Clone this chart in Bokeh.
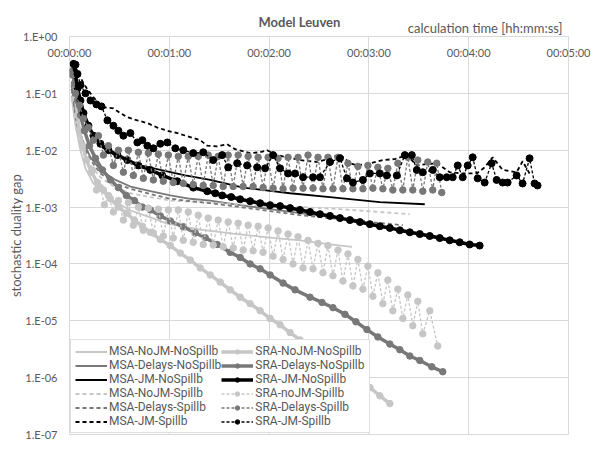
from bokeh.plotting import figure
from bokeh.models import FixedTicker, Legend, LegendItem, Title, Range1d
from bokeh.embed import file_html
from bokeh.resources import INLINE

# ---------------- data (time in seconds, stochastic duality gap) ----------------
x_ticks = [0, 60, 120, 180, 240, 300]
x_tick_labels = ["00:00:00", "00:01:00", "00:02:00", "00:03:00", "00:04:00", "00:05:00"]
y_ticks = [1.0, 1e-1, 1e-2, 1e-3, 1e-4, 1e-5, 1e-6, 1e-7]
y_tick_labels = ["1.E+00", "1.E-01", "1.E-02", "1.E-03", "1.E-04", "1.E-05", "1.E-06", "1.E-07"]

series_labels = [
    "MSA-NoJM-NoSpillb", "MSA-Delays-NoSpillb", "MSA-JM-NoSpillb",
    "MSA-NoJM-Spillb", "MSA-Delays-Spillb", "MSA-JM-Spillb",
    "SRA-NoJM-NoSpillb", "SRA-Delays-NoSpillb", "SRA-JM-NoSpillb",
    "SRA-noJM-Spillb", "SRA-Delays-Spillb", "SRA-JM-Spillb",
]

t_msa_nojm_ns = [1.2, 3.6, 6.6, 9.6, 14.4, 24.6, 36.6, 48.6, 58.8, 78.6, 98.4, 120.6, 138.6, 156.6, 169.8]
v_msa_nojm_ns = [9.2e-2, 2.7e-2, 9.9e-3, 4.8e-3, 2.6e-3, 1.4e-3, 8.7e-4, 6.6e-4, 5.1e-4, 4.0e-4, 3.4e-4,
                 2.9e-4, 2.6e-4, 2.2e-4, 2.0e-4]

t_msa_del_ns = [1.2, 4.2, 7.8, 12.6, 18.6, 27.6, 36.6, 48.6, 60.6, 72.6, 84.6, 102.6, 120.6, 138.6, 156.6, 177.6]
v_msa_del_ns = [0.14, 3.6e-2, 1.5e-2, 7.5e-3, 4.5e-3, 3.0e-3, 2.3e-3, 1.9e-3, 1.6e-3, 1.4e-3, 1.3e-3,
                1.08e-3, 9.2e-4, 7.8e-4, 6.7e-4, 5.7e-4]

t_msa_jm_ns = [1.2, 3.6, 6.6, 10.2, 14.4, 20.4, 27.6, 34.8, 42.6, 54.6, 69.6, 84.6, 104.4, 132.6, 156.6, 186.6, 213.6]
v_msa_jm_ns = [0.35, 0.17, 7.5e-2, 3.35e-2, 1.7e-2, 1.08e-2, 8.2e-3, 6.7e-3, 5.4e-3, 4.5e-3, 3.6e-3,
               3.0e-3, 2.2e-3, 1.75e-3, 1.5e-3, 1.22e-3, 1.12e-3]

t_msa_nojm_sp = [1.2, 4.2, 7.8, 12.6, 18.6, 27.6, 36.6, 48.6, 60.6, 78.6, 102.6, 120.6, 138.6, 162.6, 186.6, 204.6]
v_msa_nojm_sp = [8.2e-2, 2.4e-2, 1.0e-2, 5.4e-3, 3.35e-3, 2.2e-3, 1.75e-3, 1.5e-3, 1.3e-3, 1.22e-3, 1.12e-3,
                 1.04e-3, 1.0e-3, 9.2e-4, 8.2e-4, 7.5e-4]

t_msa_del_sp = [1.2, 4.2, 7.8, 12.6, 18.6, 27.6, 36.6, 48.6, 60.6, 72.6, 84.6, 102.6, 120.6, 138.6, 162.6, 180.6, 200.4]
v_msa_del_sp = [0.12, 3.1e-2, 1.27e-2, 6.7e-3, 3.9e-3, 2.6e-3, 2.1e-3, 1.7e-3, 1.4e-3, 1.27e-3, 1.17e-3,
                1.0e-3, 8.5e-4, 7.2e-4, 6.15e-4, 5.45e-4, 4.8e-4]

t_msa_jm_sp = [1.8, 5.4, 9.0, 12.6, 16.8, 20.4, 26.4, 30.6, 34.8, 40.8, 46.8, 52.8, 58.8, 64.8, 72.6, 78.6,
               82.8, 88.8, 94.8, 99.6, 108.6, 114.6, 118.8, 124.8, 130.8, 138.6, 148.8, 156.6, 162.6, 168.6,
               172.8, 180.6, 188.4, 195.6, 202.8, 208.8, 214.8, 220.8, 228.6, 236.4, 244.8, 249.6, 254.4,
               260.4, 268.8, 272.4, 276.6]
v_msa_jm_sp = [0.38, 0.22, 0.14, 0.10, 7.0e-2, 5.7e-2, 5.45e-2, 4.5e-2, 3.8e-2, 3.35e-2, 3.0e-2, 2.5e-2,
               2.2e-2, 2.0e-2, 1.7e-2, 1.5e-2, 1.2e-2, 1.17e-2, 1.27e-2, 1.04e-2, 8.9e-3, 9.2e-3, 1.0e-2,
               8.2e-3, 7.5e-3, 6.7e-3, 6.2e-3, 7.2e-3, 8.5e-3, 5.9e-3, 5.4e-3, 5.9e-3, 6.7e-3, 7.0e-3,
               8.2e-3, 5.4e-3, 5.7e-3, 5.9e-3, 4.1e-3, 3.9e-3, 3.9e-3, 5.0e-3, 7.5e-3, 4.5e-3, 4.1e-3,
               6.4e-3, 3.9e-3]

t_sra_nojm_ns = [3.6, 4.8, 6.0, 7.8, 10.2, 13.2, 16.8, 20.4, 24.6, 29.4, 34.2, 39.0, 43.8, 48.6, 54.6, 60.6,
                 66.6, 72.6, 78.6, 84.6, 90.6, 96.6, 102.6, 108.6, 114.6, 120.6, 126.6, 132.6, 138.6, 144.6,
                 150.6, 156.6, 162.6, 168.6, 174.6, 180.6, 186.6, 192.6]
v_sra_nojm_ns = [8.2e-2, 4.1e-2, 2.2e-2, 1.2e-2, 6.7e-3, 4.1e-3, 2.7e-3, 2.0e-3, 1.4e-3, 1.0e-3, 7.8e-4,
                 5.9e-4, 4.6e-4, 3.6e-4, 2.7e-4, 2.1e-4, 1.55e-4, 1.17e-4, 8.5e-5, 6.4e-5, 4.8e-5, 3.5e-5,
                 2.6e-5, 2.0e-5, 1.5e-5, 1.1e-5, 8.5e-6, 6.2e-6, 4.6e-6, 3.6e-6, 2.7e-6, 2.1e-6, 1.55e-6,
                 1.17e-6, 8.9e-7, 6.7e-7, 4.8e-7, 3.5e-7]

t_sra_del_ns = [1.8, 3.0, 4.8, 6.6, 9.0, 12.0, 15.6, 19.8, 24.6, 29.4, 34.2, 39.0, 43.8, 48.6, 54.6, 60.6,
                68.4, 75.6, 81.6, 88.8, 96.6, 102.6, 108.6, 114.6, 120.6, 128.4, 135.6, 144.6, 151.8, 158.4,
                165.6, 172.2, 178.8, 185.4, 192.6, 198.6, 204.6, 210.6, 217.8, 224.4]
v_sra_del_ns = [0.25, 0.15, 7.5e-2, 4.1e-2, 2.2e-2, 1.2e-2, 7.2e-3, 4.5e-3, 3.0e-3, 2.2e-3, 1.6e-3, 1.3e-3,
                1.0e-3, 8.9e-4, 7.0e-4, 5.7e-4, 4.5e-4, 3.5e-4, 2.9e-4, 2.2e-4, 1.6e-4, 1.3e-4, 1.0e-4,
                8.2e-5, 6.4e-5, 4.6e-5, 3.5e-5, 2.6e-5, 2.1e-5, 1.7e-5, 1.3e-5, 9.6e-6, 7.0e-6, 5.2e-6,
                3.9e-6, 3.1e-6, 2.4e-6, 2.0e-6, 1.55e-6, 1.27e-6]

t_sra_jm_ns = [2.4, 3.6, 4.8, 6.6, 8.4, 11.4, 14.4, 18.6, 23.4, 28.8, 34.8, 41.4, 48.6, 55.8, 64.8, 74.4,
               82.8, 87.6, 91.8, 97.2, 102.6, 108.6, 114.6, 120.6, 126.6, 132.6, 138.6, 144.6, 150.6, 156.6,
               162.6, 168.6, 174.6, 180.6, 186.6, 192.6, 198.6, 204.6, 210.6, 216.6, 222.6, 228.6, 234.6,
               240.6, 246.6]
v_sra_jm_ns = [0.33, 0.21, 0.122, 7.5e-2, 4.5e-2, 2.7e-2, 1.8e-2, 1.3e-2, 1.0e-2, 8.2e-3, 6.7e-3, 5.4e-3,
               4.5e-3, 3.6e-3, 2.85e-3, 2.2e-3, 1.9e-3, 1.75e-3, 1.6e-3, 1.5e-3, 1.37e-3, 1.27e-3, 1.17e-3,
               1.08e-3, 1.04e-3, 9.6e-4, 8.9e-4, 8.2e-4, 7.5e-4, 7.0e-4, 6.4e-4, 5.9e-4, 5.45e-4, 5.0e-4,
               4.6e-4, 4.3e-4, 3.9e-4, 3.6e-4, 3.35e-4, 3.1e-4, 2.85e-4, 2.6e-4, 2.4e-4, 2.2e-4, 2.1e-4]

t_sra_nojm_sp = [13.8, 16.2, 18.6, 21.0, 23.4, 26.4, 29.4, 32.4, 35.4, 38.4, 41.4, 44.4, 47.4, 50.4, 53.4,
                 56.4, 59.4, 62.4, 65.4, 68.4, 71.4, 74.4, 77.4, 80.4, 83.4, 86.4, 89.4, 92.4, 95.4, 98.4,
                 101.4, 104.4, 107.4, 110.4, 113.4, 116.4, 119.4, 122.4, 125.4, 128.4, 131.4, 134.4, 137.4,
                 140.4, 143.4, 146.4, 149.4, 152.4, 155.4, 158.4, 161.4, 164.4, 167.4, 170.4, 173.4, 176.4,
                 179.4, 182.4, 185.4, 188.4, 191.4, 194.4, 197.4, 200.4, 203.4, 206.4, 209.4, 212.4, 216.6,
                 221.4]
v_sra_nojm_sp = [4.5e-3, 2.0e-3, 2.2e-3, 1.1e-3, 1.6e-3, 8.2e-4, 1.3e-3, 5.9e-4, 1.2e-3, 4.8e-4, 1.0e-3,
                 3.9e-4, 9.6e-4, 3.5e-4, 9.2e-4, 3.1e-4, 8.9e-4, 2.85e-4, 8.9e-4, 2.6e-4, 8.2e-4, 2.4e-4,
                 7.2e-4, 2.2e-4, 6.4e-4, 2.15e-4, 5.9e-4, 2.0e-4, 5.45e-4, 1.9e-4, 5.2e-4, 1.75e-4, 4.8e-4,
                 1.7e-4, 4.6e-4, 1.6e-4, 4.3e-4, 1.37e-4, 3.8e-4, 1.2e-4, 3.35e-4, 1.0e-4, 3.0e-4, 8.5e-5,
                 2.6e-4, 8.2e-5, 2.3e-4, 7.0e-5, 2.1e-4, 6.2e-5, 1.75e-4, 5.0e-5, 1.5e-4, 4.1e-5, 1.2e-4,
                 3.6e-5, 9.2e-5, 2.7e-5, 7.0e-5, 2.0e-5, 5.2e-5, 1.5e-5, 3.6e-5, 1.1e-5, 2.85e-5, 8.2e-6,
                 2.2e-5, 5.9e-6, 1.5e-5, 3.6e-6]

t_sra_del_sp = [1.8, 3.6, 6.0, 8.4, 11.4, 14.4, 17.4, 20.4, 23.4, 26.4, 29.4, 32.4, 35.4, 38.4, 41.4, 44.4,
                47.4, 50.4, 53.4, 56.4, 59.4, 62.4, 65.4, 68.4, 71.4, 74.4, 77.4, 80.4, 83.4, 86.4, 89.4,
                92.4, 95.4, 98.4, 101.4, 104.4, 107.4, 110.4, 113.4, 116.4, 119.4, 122.4, 125.4, 128.4,
                131.4, 134.4, 137.4, 140.4, 143.4, 146.4, 149.4, 152.4, 155.4, 158.4, 161.4, 164.4, 167.4,
                170.4, 173.4, 176.4, 179.4, 182.4, 185.4, 188.4, 191.4, 194.4, 197.4, 200.4, 203.4, 206.4,
                209.4, 212.4, 215.4, 218.4, 220.8, 223.8]
v_sra_del_sp = [0.21, 0.10, 6.2e-2, 3.6e-2, 2.5e-2, 1.5e-2, 1.8e-2, 8.2e-3, 1.2e-2, 5.4e-3, 1.0e-2, 4.1e-3,
                1.0e-2, 3.6e-3, 9.2e-3, 3.2e-3, 8.9e-3, 3.0e-3, 8.5e-3, 2.85e-3, 8.2e-3, 2.7e-3, 7.8e-3,
                2.6e-3, 7.8e-3, 2.5e-3, 7.8e-3, 2.4e-3, 8.2e-3, 2.4e-3, 7.8e-3, 2.3e-3, 8.2e-3, 2.3e-3,
                8.2e-3, 2.3e-3, 7.8e-3, 2.3e-3, 7.5e-3, 2.2e-3, 7.5e-3, 2.15e-3, 7.2e-3, 2.1e-3, 7.5e-3,
                2.15e-3, 7.5e-3, 2.15e-3, 8.2e-3, 2.15e-3, 7.5e-3, 2.1e-3, 7.5e-3, 2.1e-3, 7.5e-3, 2.1e-3,
                5.9e-3, 2.1e-3, 5.2e-3, 2.1e-3, 5.4e-3, 2.15e-3, 5.0e-3, 2.1e-3, 4.8e-3, 2.0e-3, 5.9e-3,
                2.0e-3, 7.5e-3, 2.0e-3, 6.7e-3, 1.9e-3, 6.2e-3, 2.0e-3, 5.9e-3, 1.8e-3]

t_sra_jm_sp = [3.6, 4.8, 6.6, 9.6, 12.6, 16.2, 19.2, 22.8, 26.4, 29.4, 32.4, 36.6, 40.8, 43.8, 46.8, 50.4,
               54.6, 58.8, 63.6, 68.4, 74.4, 80.4, 86.4, 91.8, 95.4, 100.8, 106.8, 112.8, 117.6, 122.4,
               126.6, 131.4, 135.6, 140.4, 146.4, 150.6, 156.6, 162.6, 166.8, 170.4, 176.4, 180.6, 186.6,
               190.8, 196.8, 201.6, 205.8, 208.8, 212.4, 218.4, 222.6, 226.8, 230.4, 233.4, 236.4, 239.4,
               242.4, 245.4, 249.6, 253.8, 256.8, 260.4, 263.4, 268.8, 272.4, 276.6, 279.6, 281.4]
v_sra_jm_sp = [0.32, 0.22, 0.14, 0.10, 7.5e-2, 6.4e-2, 5.9e-2, 3.35e-2, 2.7e-2, 2.2e-2, 1.8e-2, 2.0e-2,
               1.37e-2, 1.5e-2, 1.2e-2, 1.08e-2, 1.3e-2, 1.37e-2, 1.08e-2, 1.0e-2, 8.9e-3, 9.2e-3, 6.7e-3,
               8.2e-3, 5.0e-3, 5.9e-3, 5.4e-3, 5.0e-3, 4.8e-3, 8.2e-3, 4.8e-3, 3.9e-3, 3.9e-3, 3.35e-3,
               3.35e-3, 3.35e-3, 6.2e-3, 7.2e-3, 3.2e-3, 2.7e-3, 3.0e-3, 3.9e-3, 3.9e-3, 3.6e-3, 3.6e-3,
               8.2e-3, 8.2e-3, 4.5e-3, 4.1e-3, 4.5e-3, 3.35e-3, 3.35e-3, 3.35e-3, 5.4e-3, 3.35e-3, 5.4e-3,
               7.5e-3, 3.2e-3, 2.7e-3, 5.9e-3, 3.0e-3, 2.7e-3, 2.7e-3, 3.6e-3, 2.6e-3, 7.2e-3, 2.6e-3, 2.4e-3]

chart_title = "Model Leuven"
x_caption = "calculation time [hh:mm:ss]"

# ---------------- styling ----------------
FONT = "Lato"
LFONT = "Roboto"
TXT = "#595959"
LG = "#c6c6c6"
GR = "#787878"
BK = "#000000"
GRID = "#d9d9d9"

p = figure(width=593, height=452, output_backend="svg", toolbar_location=None,
           x_axis_location="above", y_axis_type="log",
           x_range=Range1d(0, 300), y_range=Range1d(1e-7, 1.0),
           min_border_left=69, min_border_right=25, min_border_top=36, min_border_bottom=18)
p.background_fill_color = "white"
p.border_fill_color = "white"
p.outline_line_color = GRID

# title + axis caption above the plotting frame
p.title.text = chart_title
p.title.align = "left"
p.title.offset = 189
p.title.standoff = -26
p.title.text_font = FONT
p.title.text_font_style = "bold"
p.title.text_font_size = "13px"
p.title.text_color = TXT
p.add_layout(Title(text=x_caption, align="right", offset=6, standoff=2,
                   text_font=FONT, text_font_style="normal", text_font_size="13px",
                   text_color=TXT), "above")

xa = p.xaxis[0]
xa.ticker = FixedTicker(ticks=x_ticks)
xa.major_label_overrides = dict(zip(x_ticks, x_tick_labels))
xa.major_label_standoff = -22
xa.major_tick_out = 0
xa.major_tick_in = 0
xa.minor_tick_out = 0
xa.minor_tick_in = 0
xa.axis_line_color = None
xa.major_label_text_font = FONT
xa.major_label_text_font_size = "11px"
xa.major_label_text_color = TXT

ya = p.yaxis[0]
ya.ticker = FixedTicker(ticks=y_ticks)
ya.major_label_overrides = dict(zip(y_ticks, y_tick_labels))
ya.major_tick_out = 0
ya.major_tick_in = 0
ya.minor_tick_out = 0
ya.minor_tick_in = 0
ya.axis_line_color = None
ya.major_label_standoff = 12
ya.major_label_text_font = FONT
ya.major_label_text_font_size = "11px"
ya.major_label_text_color = TXT
ya.axis_label = "stochastic duality gap"
ya.axis_label_text_font = FONT
ya.axis_label_text_font_style = "normal"
ya.axis_label_text_font_size = "13px"
ya.axis_label_text_color = TXT
ya.axis_label_standoff = -4

p.xgrid.grid_line_color = GRID
p.ygrid.grid_line_color = GRID
p.xgrid.minor_grid_line_color = None
p.ygrid.minor_grid_line_color = None

# ---------------- series ----------------
renderers = []

def msa(t, v, color, dash):
    r = p.line(t, v, line_color=color, line_width=1.8, line_dash=dash)
    return [r]

def sra(t, v, color, dash, lw, size):
    r1 = p.line(t, v, line_color=color, line_width=lw, line_dash=dash)
    r2 = p.scatter(t, v, marker="circle", size=size, fill_color=color, line_color=color)
    return [r1, r2]

renderers.append(msa(t_msa_nojm_ns, v_msa_nojm_ns, LG, "solid"))
renderers.append(msa(t_msa_del_ns, v_msa_del_ns, GR, "solid"))
renderers.append(msa(t_msa_jm_ns, v_msa_jm_ns, BK, "solid"))
renderers.append(msa(t_msa_nojm_sp, v_msa_nojm_sp, LG, "4 3"))
renderers.append(msa(t_msa_del_sp, v_msa_del_sp, GR, "4 3"))
renderers.append(msa(t_msa_jm_sp, v_msa_jm_sp, BK, "4 3"))
renderers.append(sra(t_sra_nojm_ns, v_sra_nojm_ns, LG, "solid", 3.5, 6.5))
renderers.append(sra(t_sra_del_ns, v_sra_del_ns, GR, "solid", 3.5, 6.5))
renderers.append(sra(t_sra_jm_ns, v_sra_jm_ns, BK, "solid", 3.5, 7))
renderers.append(sra(t_sra_nojm_sp, v_sra_nojm_sp, LG, "3 2", 1.3, 6.5))
renderers.append(sra(t_sra_del_sp, v_sra_del_sp, GR, "3 2", 1.3, 6.5))
renderers.append(sra(t_sra_jm_sp, v_sra_jm_sp, BK, "3 2", 1.3, 7))

items = [LegendItem(label=lab, renderers=rs) for lab, rs in zip(series_labels, renderers)]
legend = Legend(items=items, location="bottom_left", ncols=2,
                label_text_font=LFONT, label_text_font_size="12px", label_text_color=TXT,
                glyph_width=32, glyph_height=11, label_height=11, label_standoff=2,
                spacing=-1, padding=4, margin=1,
                border_line_color="#bfbfbf", background_fill_color="white", background_fill_alpha=1.0)
p.add_layout(legend)

open("out.html", "w").write(file_html(p, INLINE))
